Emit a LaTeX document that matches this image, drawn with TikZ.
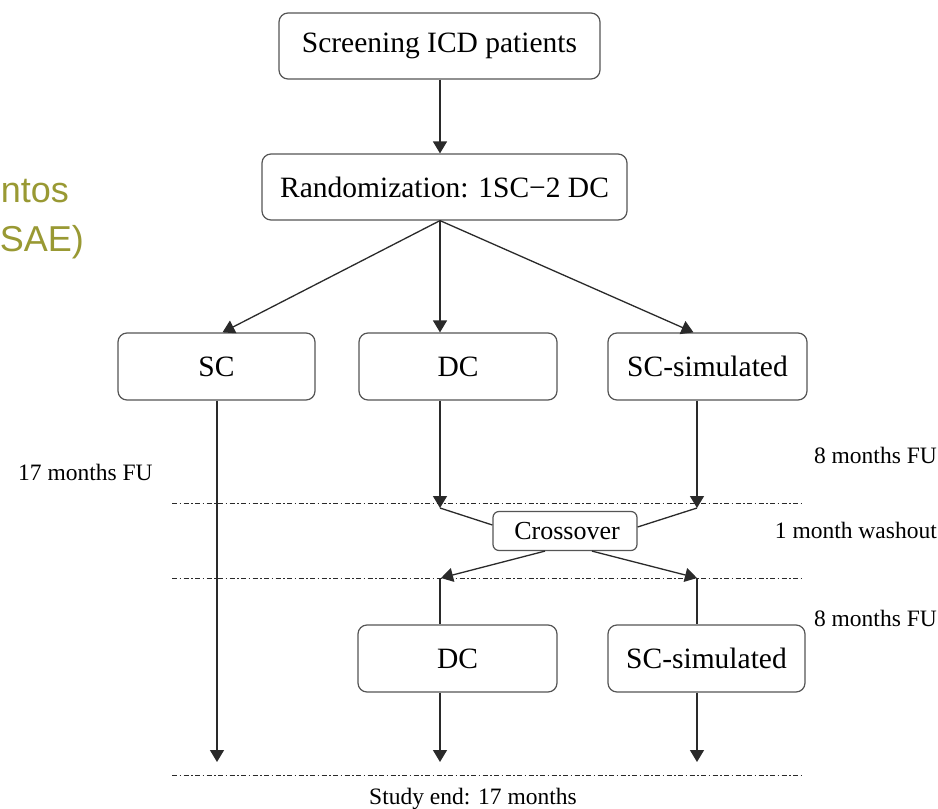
\documentclass[tikz,border=0pt]{standalone}
\usepackage{fontspec}
\setmainfont{Liberation Serif}
\newfontfamily\slidefont{Liberation Sans}
\usetikzlibrary{arrows.meta,calc}
\definecolor{slideolive}{HTML}{999933}
\definecolor{boxgray}{HTML}{555555}
\definecolor{linegray}{HTML}{2A2A2A}
\tikzset{
  box/.style={draw=boxgray, line width=1.2pt, rounded corners=9pt, inner sep=0pt,
    minimum height=67pt, font=\fontsize{29.5}{34}\selectfont},
  conn/.style={draw=linegray, line width=1.3pt},
  arr/.style={conn, -{Triangle[width=14pt,length=12pt]}},
  phase/.style={draw=linegray, line width=0.9pt, dash pattern=on 5pt off 2.5pt on 1.5pt off 2.5pt},
  lab/.style={font=\fontsize{23.5}{28}\selectfont, inner sep=0pt},
  slidetext/.style={font=\slidefont\fontsize{36}{40}\selectfont, text=slideolive, inner sep=0pt}
}
\begin{document}
\begin{tikzpicture}[x=1pt,y=-1pt]
\clip (0,0) rectangle (938,809);
\fill[white] (0,0) rectangle (938,809);

% columns
\coordinate (cA) at (217,0);
\coordinate (cB) at (440,0);
\coordinate (cC) at (697,0);

% partial slide text
\node[slidetext, anchor=base east] (t1) at (69,202) {ntos};
\node[slidetext, anchor=base east] (t2) at (84,251) {SAE)};

% boxes
\node[box, minimum width=321pt, minimum height=66pt] (scr) at (439.5,46) {Screening ICD patients};
\node[box, minimum width=365pt, minimum height=66pt] (rand) at (444.5,187) {Randomization: 1SC−2 DC};
\node[box, minimum width=197pt] (sc) at (216.5,366.5) {SC};
\node[box, minimum width=198pt] (dc) at (458,366.5) {DC};
\node[box, minimum width=199pt] (scsim) at (707.5,366.5) {SC-simulated};
\node[box, minimum width=144pt, minimum height=39pt, rounded corners=6pt, font=\fontsize{26}{30}\selectfont] (cross) at (565,531) {\hspace{4pt}Crossover};
\node[box, minimum width=199pt] (dc2) at (457.5,658.5) {DC};
\node[box, minimum width=197pt] (scsim2) at (706.5,658.5) {SC-simulated};

% phase lines
\draw[phase] (172,503) -- (802,503);
\draw[phase] (172,578) -- (802,578);
\draw[phase] (172,775) -- (802,775);

% tip coordinates
\coordinate (dtip) at (440,508);
\coordinate (stip) at (697,508);
\coordinate (dlow) at (441,578);
\coordinate (slow) at (697,578);
\coordinate (endA) at (217,762);
\coordinate (endB) at (440,762);
\coordinate (endC) at (697,762);

% connectors
\draw[arr] (scr.south -| cB) -- (rand.north -| cB);
\draw[arr] (rand.south -| cB) -- ([xshift=6pt]sc.north);
\draw[arr] (rand.south -| cB) -- (dc.north -| cB);
\draw[arr] (rand.south -| cB) -- ([xshift=-14pt]scsim.north);

\draw[arr] (sc.south -| cA) -- (endA);
\draw[arr] (dc.south -| cB) -- (dtip);
\draw[arr] (scsim.south -| cC) -- (stip);

\draw[conn] (dtip) -- ([yshift=6pt]cross.west);
\draw[conn] (stip) -- ([yshift=4pt]cross.east);
\draw[arr] ([xshift=-20pt]cross.south) -- (dlow);
\draw[arr] ([xshift=27pt]cross.south) -- (slow);

\draw[conn] (dlow -| cB) -- (dc2.north -| cB);
\draw[conn] (slow) -- (scsim2.north -| cC);
\draw[arr] (dc2.south -| cB) -- (endB);
\draw[arr] (scsim2.south -| cC) -- (endC);

% labels
\node[lab, anchor=base west] (l17) at (18,480) {17 months FU};
\node[lab, anchor=base east] (l8a) at (937,463) {8 months FU};
\node[lab, anchor=base east] (lwash) at (937,538) {1 month washout};
\node[lab, anchor=base east] (l8b) at (937,626) {8 months FU};
\node[lab, anchor=base] (lend) at (473,804) {Study end: 17 months};
\end{tikzpicture}
\end{document}
